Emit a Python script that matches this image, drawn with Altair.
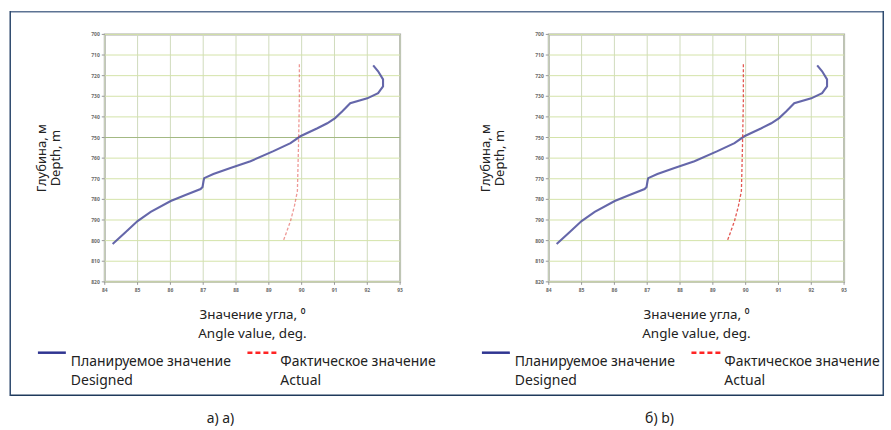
import altair as alt
import pandas as pd

# ---- data ----
x_ticks = [84, 85, 86, 87, 88, 89, 90, 91, 92, 93]
y_ticks = [700, 710, 720, 730, 740, 750, 760, 770, 780, 790, 800, 810, 820]

designed_angle = [84.24, 84.64, 85.00, 85.40, 86.01, 86.46, 86.92, 86.98, 87.01, 87.03,
                  87.31, 87.83, 88.44, 89.14, 89.66, 89.96, 90.48, 90.78, 91.02, 91.24,
                  91.48, 92.00, 92.33, 92.48, 92.48, 92.33, 92.18]
designed_depth = [801.6, 795.8, 790.5, 786.1, 780.8, 777.9, 775.0, 774.0, 771.1, 769.7,
                  767.7, 764.8, 761.5, 756.6, 752.7, 749.4, 745.5, 743.1, 740.6, 737.3,
                  733.4, 731.0, 728.5, 725.2, 721.8, 717.9, 715.0]

actual_angle = [89.93, 89.93, 89.90, 89.87, 89.78, 89.66, 89.53, 89.44]
actual_depth = [714.5, 732.4, 756.6, 776.0, 783.2, 790.5, 796.3, 800.2]

y_title = ["Глубина, м", "Depth, m"]
x_title = ["Значение угла, ⁰", "Angle value, deg."]
legend_designed = ["Планируемое значение", "Designed"]
legend_actual = ["Фактическое значение", "Actual"]
captions = ["а) a)", "б) b)"]

designed_df = pd.DataFrame({"angle": designed_angle, "depth": designed_depth,
                            "i": list(range(len(designed_angle)))})
actual_df = pd.DataFrame({"angle": actual_angle, "depth": actual_depth,
                          "i": list(range(len(actual_angle)))})
xgrid_df = pd.DataFrame({"angle": x_ticks, "lab": [str(v) for v in x_ticks]})
ygrid_df = pd.DataFrame({"depth": y_ticks, "lab": [str(v) for v in y_ticks]})
one = pd.DataFrame({"k": [0]})

W, H = 296, 248
FONT = "Noto Sans"


def rect(color, x, x2, y, y2):
    return (alt.Chart(one).mark_rect(color=color)
            .encode(x=alt.value(x), x2=alt.value(x2), y=alt.value(y), y2=alt.value(y2)))


def panel(caption, cap_x, dark_line, red_opacity, is_left):
    x_enc = alt.X("angle:Q", scale=alt.Scale(domain=[84, 93], nice=False, zero=False),
                  axis=None)
    y_enc = alt.Y("depth:Q",
                  scale=alt.Scale(domain=[700, 820], reverse=True, nice=False, zero=False),
                  axis=None)

    layers = []
    # grid, ticks and tick labels drawn from the tick arrays
    layers.append(alt.Chart(xgrid_df).mark_rule(color="#d0dbbd", strokeWidth=1)
                  .encode(x=x_enc))
    layers.append(alt.Chart(ygrid_df).mark_rule(color="#d4e3a9", strokeWidth=1)
                  .encode(y=y_enc))
    layers.append(alt.Chart(xgrid_df).mark_rule(color="#9a9a9a", strokeWidth=1)
                  .encode(x="angle:Q", y=alt.value(H), y2=alt.value(H + 3)))
    layers.append(alt.Chart(ygrid_df).mark_rule(color="#9a9a9a", strokeWidth=1)
                  .encode(y="depth:Q", x=alt.value(-3), x2=alt.value(0)))
    layers.append(alt.Chart(xgrid_df).mark_text(font=FONT, fontSize=5, fontWeight="bold",
                                                color="#6a6a6a", baseline="middle",
                                                align="center")
                  .encode(x="angle:Q", y=alt.value(H + 8), text="lab:N"))
    layers.append(alt.Chart(ygrid_df).mark_text(font=FONT, fontSize=5, fontWeight="bold",
                                                color="#6a6a6a", baseline="middle",
                                                align="right")
                  .encode(y="depth:Q", x=alt.value(-5), text="lab:N"))
    if dark_line is not None:
        layers.append(alt.Chart(one).mark_rule(color="#a3b983", strokeWidth=1.2)
                      .encode(y=alt.datum(dark_line)))

    layers.append(alt.Chart(designed_df)
                  .mark_line(color="#50529e", strokeWidth=2.1, opacity=0.88)
                  .encode(x="angle:Q", y="depth:Q", order="i:Q"))
    layers.append(alt.Chart(actual_df)
                  .mark_line(color="#e0463f", strokeWidth=1.3, strokeDash=[3, 2],
                             opacity=red_opacity)
                  .encode(x="angle:Q", y="depth:Q", order="i:Q"))

    # axis titles
    layers.append(alt.Chart(one).mark_text(text=y_title, angle=270, font=FONT, fontSize=13,
                                           lineHeight=14, align="center",
                                           baseline="middle", color="#222222")
                  .encode(x=alt.value(-63), y=alt.value(124)))
    layers.append(alt.Chart(one).mark_text(text=x_title, font=FONT, fontSize=13.5,
                                           lineHeight=19, align="center",
                                           baseline="middle", color="#222222")
                  .encode(x=alt.value(W / 2), y=alt.value(281.5)))

    # legend
    layers.append(alt.Chart(one).mark_rule(color="#2f3591", strokeWidth=2.5)
                  .encode(x=alt.value(-67), x2=alt.value(-39), y=alt.value(319)))
    layers.append(alt.Chart(one).mark_text(text=legend_designed, font=FONT, fontSize=14,
                                           lineHeight=19, align="left",
                                           baseline="middle", color="#222222")
                  .encode(x=alt.value(-34), y=alt.value(328.5)))
    layers.append(alt.Chart(one).mark_rule(color="#ff2424", strokeWidth=2.5,
                                           strokeDash=[5, 3])
                  .encode(x=alt.value(143), x2=alt.value(173), y=alt.value(319)))
    layers.append(alt.Chart(one).mark_text(text=legend_actual, font=FONT, fontSize=14,
                                           lineHeight=19, align="left",
                                           baseline="middle", color="#222222")
                  .encode(x=alt.value(176), y=alt.value(328.5)))

    # caption below the frame
    layers.append(alt.Chart(one).mark_text(text=caption, font=FONT, fontSize=14,
                                           align="center", baseline="middle",
                                           color="#222222")
                  .encode(x=alt.value(cap_x), y=alt.value(385)))

    if is_left:
        # whole outer frame around both panels, plus page-corner anchors
        layers.append(rect("#5d7393", -95, 780, -23.5, -22))
        layers.append(rect("#1f3a5c", -95, 780, 361, 362.5))
        layers.append(rect("#2e4a6e", -95.5, -94, -23.5, 362.5))
        layers.append(rect("#2e4a6e", 779.5, 781, -23.5, 362.5))
        layers.append(rect("#ffffff", -104, -103, -33, -32))
        layers.append(rect("#ffffff", 786, 787, 396, 397))

    return alt.layer(*layers).properties(width=W, height=H)


left = panel(captions[0], 116, 750, 0.55, True)
right = panel(captions[1], 111, None, 0.9, False)

chart = (alt.hconcat(left, right, spacing=149, bounds="flush")
         .properties(padding=0, background="white")
         .configure_view(stroke="#a8a8a8", strokeWidth=2))

chart.save("out.html", embed_options={"renderer": "svg", "actions": False})
